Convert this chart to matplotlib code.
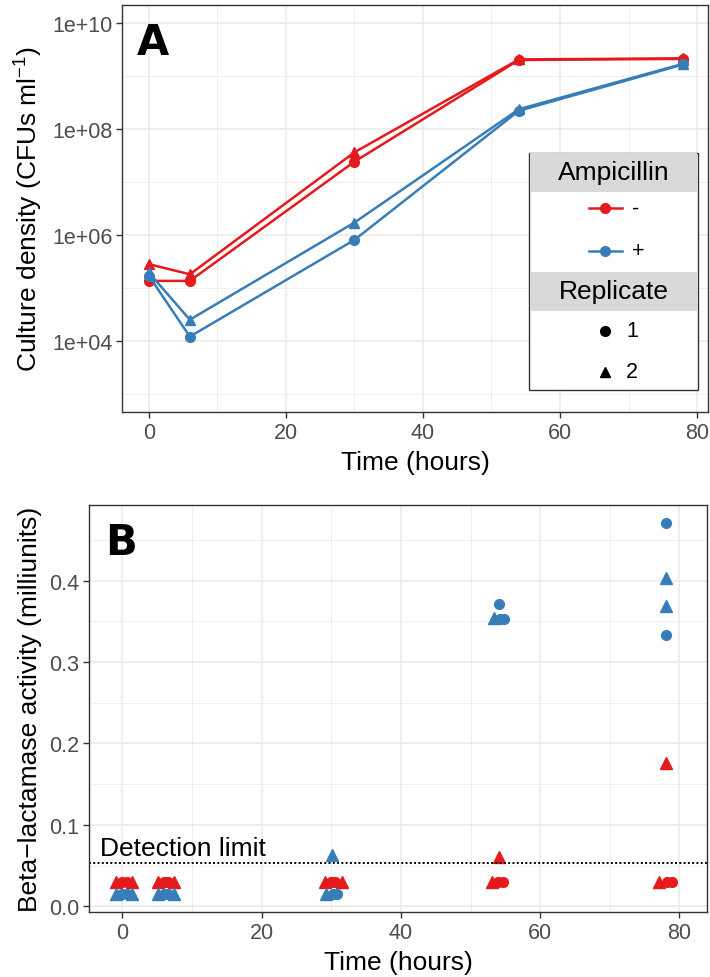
import numpy as np
import matplotlib
matplotlib.use("Agg")
import matplotlib.pyplot as plt
from matplotlib.lines import Line2D
from matplotlib.patches import Rectangle

plt.rcParams['font.family'] = ['Liberation Sans', 'DejaVu Sans']
plt.rcParams['mathtext.default'] = 'regular'

RED = '#E41A1C'
BLUE = '#377EB8'
GRID = '#EBEBEB'
FRAME = '#333333'
TICKC = '#4D4D4D'

# panel A: culture density, per ampicillin (-/+) and replicate (1/2)
times = [0, 6, 30, 54, 78]
dens_minus_1 = [1.35e5, 1.35e5, 2.4e7, 2.0e9, 2.1e9]
dens_minus_2 = [2.8e5, 1.8e5, 3.6e7, 2.05e9, 2.15e9]
dens_plus_1 = [1.7e5, 1.2e4, 8.0e5, 2.2e8, 1.65e9]
dens_plus_2 = [1.95e5, 2.5e4, 1.7e6, 2.35e8, 1.7e9]

# panel B: beta-lactamase activity (jittered time, value)
bl_minus_1_t = [0.0, 0.6, 6.0, 6.6, 30.0, 30.6, 54.0, 54.6, 78.2, 78.9]
bl_minus_1_v = [0.030, 0.030, 0.030, 0.030, 0.030, 0.030, 0.030, 0.030, 0.030, 0.030]
bl_minus_2_t = [-0.9, 1.4, 5.1, 7.4, 29.1, 31.5, 53.1, 54.1, 77.0, 78.1]
bl_minus_2_v = [0.030, 0.030, 0.030, 0.030, 0.030, 0.030, 0.030, 0.060, 0.030, 0.176]
bl_plus_1_t = [0.0, 0.6, 6.0, 6.6, 30.2, 30.8, 54.2, 54.8, 54.1, 78.1, 78.1]
bl_plus_1_v = [0.015, 0.015, 0.015, 0.015, 0.015, 0.015, 0.353, 0.353, 0.371, 0.471, 0.333]
bl_plus_2_t = [-0.9, 1.4, 5.1, 7.4, 29.2, 30.1, 53.3, 78.1, 78.1]
bl_plus_2_v = [0.015, 0.015, 0.015, 0.015, 0.015, 0.063, 0.354, 0.403, 0.369]
detection_limit = 0.0528

fig = plt.figure(figsize=(7.1, 9.78), dpi=100)
axA = fig.add_axes([0.1718, 0.5777, 0.8254, 0.4162])
axB = fig.add_axes([0.1254, 0.0662, 0.8708, 0.4164])

TICK_FS = 15.5
TITLE_FS = 19


def style(ax):
    ax.set_facecolor('white')
    for s in ax.spines.values():
        s.set_color(FRAME)
        s.set_linewidth(1.0)
    ax.tick_params(axis='both', which='major', length=4, width=1, color=FRAME,
                   labelcolor=TICKC, labelsize=TICK_FS, pad=3)
    ax.tick_params(axis='both', which='minor', length=0)
    ax.grid(True, which='major', color=GRID, linewidth=1.2)
    ax.grid(True, which='minor', color=GRID, linewidth=0.6)
    ax.set_axisbelow(True)


# ---- panel A
kw = dict(lw=1.8, ms=7)
axA.plot(times, dens_minus_1, color=RED, marker='o', **kw)
axA.plot(times, dens_minus_2, color=RED, marker='^', **kw)
axA.plot(times, dens_plus_1, color=BLUE, marker='o', **kw)
axA.plot(times, dens_plus_2, color=BLUE, marker='^', **kw)
axA.set_yscale('log')
axA.set_xlim(-3.9, 81.6)
axA.set_ylim(10 ** 2.655, 10 ** 10.34)
axA.set_xticks([0, 20, 40, 60, 80])
axA.set_xticks([10, 30, 50, 70], minor=True)
axA.set_yticks([1e4, 1e6, 1e8, 1e10])
axA.set_yticklabels(['1e+04', '1e+06', '1e+08', '1e+10'])
axA.set_yticks([1e3, 1e5, 1e7, 1e9], minor=True)
axA.yaxis.set_minor_formatter(matplotlib.ticker.NullFormatter())
style(axA)
axA.set_xlabel('Time (hours)', fontsize=TITLE_FS, labelpad=5)
axA.set_ylabel('Culture density (CFUs ml$^{-1}$)', fontsize=TITLE_FS, labelpad=5)
axA.text(0.026, 0.96, 'A', transform=axA.transAxes, fontsize=30, fontweight='bold',
         family='DejaVu Sans', va='top', ha='left')

# legend drawn by hand (ggplot style, two titled sections)
T = axA.transAxes
x0, x1 = 0.6945, 0.983
axA.add_patch(Rectangle((x0, 0.0541), x1 - x0, 0.6364 - 0.0541, transform=T,
                        facecolor='white', edgecolor=FRAME, lw=1.0, zorder=5))
for yb, yt, title in [(0.5405, 0.6364, 'Ampicillin'), (0.2489, 0.3447, 'Replicate')]:
    axA.add_patch(Rectangle((x0 + 0.002, yb), x1 - x0 - 0.004, yt - yb, transform=T,
                            facecolor='#D9D9D9', edgecolor='none', zorder=6))
    axA.text((x0 + x1) / 2, (yb + yt) / 2, title, transform=T, ha='center', va='center',
             fontsize=TITLE_FS, zorder=7)
for yy, col, lab in [(0.5012, RED, '-'), (0.3963, BLUE, '+')]:
    axA.add_line(Line2D([0.797, 0.853], [yy, yy], transform=T, color=col, lw=1.8,
                        zorder=7))
    axA.add_line(Line2D([0.825], [yy], transform=T, color=col, marker='o', ms=7,
                        zorder=7))
    axA.text(0.870, yy, lab, transform=T, ha='left', va='center', fontsize=TICK_FS,
             zorder=7)
for yy, mk, lab in [(0.1998, 'o', '1'), (0.0990, '^', '2')]:
    axA.add_line(Line2D([0.825], [yy], transform=T, color='black', marker=mk, ms=7,
                        zorder=7))
    axA.text(0.860, yy, lab, transform=T, ha='left', va='center', fontsize=TICK_FS,
             zorder=7)

# ---- panel B
axB.plot(bl_minus_1_t, bl_minus_1_v, 'o', color=RED, ms=7, ls='none')
axB.plot(bl_minus_2_t, bl_minus_2_v, '^', color=RED, ms=8, ls='none')
axB.plot(bl_plus_1_t, bl_plus_1_v, 'o', color=BLUE, ms=7, ls='none')
axB.plot(bl_plus_2_t, bl_plus_2_v, '^', color=BLUE, ms=8, ls='none')
axB.axhline(detection_limit, color='black', ls=(0, (1, 1.2)), lw=1.4)
axB.text(-3.2, detection_limit + 0.004, 'Detection limit', fontsize=TITLE_FS, ha='left',
         va='bottom')
axB.set_xlim(-4.78, 84.0)
axB.set_ylim(-0.0074, 0.493)
axB.set_xticks([0, 20, 40, 60, 80])
axB.set_xticks([10, 30, 50, 70], minor=True)
axB.set_yticks([0.0, 0.1, 0.2, 0.3, 0.4])
axB.set_yticklabels(['0.0', '0.1', '0.2', '0.3', '0.4'])
axB.set_yticks([0.05, 0.15, 0.25, 0.35, 0.45], minor=True)
style(axB)
axB.set_xlabel('Time (hours)', fontsize=TITLE_FS, labelpad=5)
axB.set_ylabel('Beta\u2212lactamase activity (milliunits)', fontsize=TITLE_FS, labelpad=5)
axB.text(0.026, 0.96, 'B', transform=axB.transAxes, fontsize=30, fontweight='bold',
         family='DejaVu Sans', va='top', ha='left')

fig.savefig('out.png', dpi=100)
